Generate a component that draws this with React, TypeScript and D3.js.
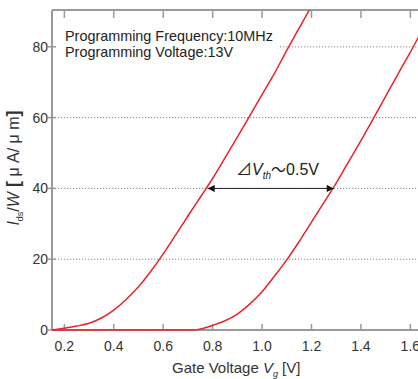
import React from "react";
import * as d3 from "d3";

const curve1X = [0.15, 0.2, 0.25, 0.3, 0.35, 0.4, 0.45, 0.5, 0.55, 0.6, 0.65, 0.7, 0.75, 0.8, 0.85, 0.9, 0.95, 1.0, 1.05, 1.1, 1.15, 1.2];
const curve1Y = [0, 0.5, 1.1, 1.9, 3.4, 5.6, 8.6, 12.2, 16.6, 21.5, 26.8, 32.2, 37.5, 42.8, 48.6, 54.5, 60.5, 66.5, 72.5, 79, 85.3, 91.5];
const curve2X = [0.15, 0.4, 0.6, 0.72, 0.75, 0.8, 0.85, 0.9, 0.95, 1.0, 1.05, 1.1, 1.15, 1.2, 1.25, 1.3, 1.35, 1.4, 1.45, 1.5, 1.55, 1.6, 1.65];
const curve2Y = [0, 0, 0, 0, 0.3, 1.3, 2.6, 4.5, 7.3, 10.8, 15.2, 19.8, 25, 30.5, 36, 41.5, 47.5, 53.5, 59.7, 66, 72.3, 78.5, 85];
const xTicks = [0.2, 0.4, 0.6, 0.8, 1.0, 1.2, 1.4, 1.6];
const yTicks = [0, 20, 40, 60, 80];
const gridY = [20, 40, 60, 80];
const arrowX = [0.78, 1.29];
const arrowY = 40;
const infoLines = ["Programming Frequency:10MHz", "Programming Voltage:13V"];

const W = 418, H = 379;
const left = 52, top = 10, bottom = 330;
const pxPerUnit = (410 - 64) / 1.4;
const x = d3.scaleLinear().domain([0.15, 1.65]).range([left, left + 1.5 * pxPerUnit]);
const y = d3.scaleLinear().domain([0, 90.4]).range([bottom, top]);

const line = d3.line<[number, number]>().x(d => x(d[0])).y(d => y(d[1])).curve(d3.curveMonotoneX);

const red = "#e8242a";
const axisCol = "#9a9a9a";
const font = "'Liberation Sans', Arial, sans-serif";
const cjk = "'Noto Sans CJK JP', 'DejaVu Sans', sans-serif";

export default function App() {
  const c1 = curve1X.map((v, i) => [v, curve1Y[i]] as [number, number]);
  const c2 = curve2X.map((v, i) => [v, curve2Y[i]] as [number, number]);
  return (
    <div style={{ position: "absolute", left: 0, top: 0 }}>
      <svg width={W} height={H} style={{ display: "block", background: "#fff" }}>
        <defs>
          <clipPath id="plot">
            <rect x={left} y={top} width={W - left} height={bottom - top + 2} />
          </clipPath>
          <marker id="ah" viewBox="0 0 10 10" refX="10" refY="5" markerWidth="10" markerHeight="7" markerUnits="userSpaceOnUse" orient="auto-start-reverse">
            <path d="M0,0 L10,5 L0,10 z" fill="#111" />
          </marker>
        </defs>
        {gridY.map(t => (
          <line key={t} x1={left} x2={W} y1={y(t)} y2={y(t)} stroke="#8a8a8a" strokeWidth={1} strokeDasharray="1.2,1.8" />
        ))}
        <rect x={left + 2} y={28} width={224} height={33} fill="#fff" />
        {infoLines.map((s, i) => (
          <text key={s} x={65} y={40.5 + i * 16} fontFamily={font} fontSize={14.4} fill="#222">{s}</text>
        ))}
        {xTicks.map(t => (
          <g key={t}>
            <line x1={x(t)} x2={x(t)} y1={bottom} y2={bottom - 6} stroke={axisCol} strokeWidth={1.5} />
            <line x1={x(t)} x2={x(t)} y1={top} y2={top + 8} stroke={axisCol} strokeWidth={1.5} />
            <text x={x(t)} y={351} textAnchor="middle" fontFamily={font} fontSize={14} fill="#333">{t.toFixed(1)}</text>
          </g>
        ))}
        {yTicks.map(t => (
          <g key={t}>
            <line x1={left - 4} x2={left + 4} y1={y(t)} y2={y(t)} stroke={axisCol} strokeWidth={1.5} />
            <text x={48} y={y(t)} dy="0.36em" textAnchor="end" fontFamily={font} fontSize={14} fill="#333">{t}</text>
          </g>
        ))}
        <line x1={left} x2={W} y1={top} y2={top} stroke={axisCol} strokeWidth={2} />
        <line x1={left} x2={W} y1={bottom} y2={bottom} stroke={axisCol} strokeWidth={2} />
        <line x1={left} x2={left} y1={top} y2={bottom} stroke={axisCol} strokeWidth={2} />
        <g clipPath="url(#plot)">
          <path d={line(c2) || ""} fill="none" stroke={red} strokeWidth={1.5} />
          <path d={line(c1) || ""} fill="none" stroke={red} strokeWidth={1.5} />
        </g>
        <line x1={x(arrowX[0])} x2={x(arrowX[1])} y1={y(arrowY)} y2={y(arrowY)} stroke="#222" strokeWidth={1} markerStart="url(#ah)" markerEnd="url(#ah)" />
        <text x={236} y={175} fontFamily={font} fontSize={16} fill="#222">
          <tspan fontFamily={cjk}>⊿</tspan>
          <tspan fontStyle="italic">V</tspan>
          <tspan fontSize={10} fontStyle="italic" dy={4}>th</tspan>
          <tspan dy={-4} fontFamily={cjk} fontSize={15}>〜</tspan>
          <tspan>0.5V</tspan>
        </text>
        <text x={172} y={373} fontFamily={font} fontSize={15} fill="#333">
          Gate Voltage <tspan fontStyle="italic">V</tspan>
          <tspan fontSize={9} fontStyle="italic" dy={4}>g</tspan>
          <tspan dy={-4}> [V]</tspan>
        </text>
        <text transform={`translate(19,168) rotate(-90)`} textAnchor="middle" fontFamily={font} fontSize={16} fill="#333">
          <tspan fontStyle="italic">I</tspan>
          <tspan fontSize={9} dy={4}>ds</tspan>
          <tspan dy={-4}>/</tspan>
          <tspan fontStyle="italic">W</tspan>
          <tspan fontWeight="bold" fontSize={18}> [</tspan>
          <tspan> μ A/ μ m</tspan>
          <tspan fontWeight="bold" fontSize={18}>]</tspan>
        </text>
      </svg>
    </div>
  );
}
